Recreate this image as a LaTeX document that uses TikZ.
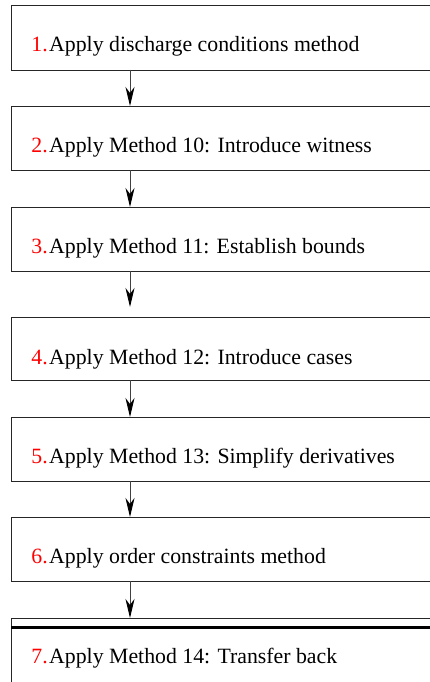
\documentclass[tikz,border=0pt]{standalone}
\usepackage{fontspec}
\setmainfont{Liberation Serif}
\usetikzlibrary{arrows.meta}

\tikzset{
  stepbox/.style={draw=black!85, line width=0.9pt, anchor=north west,
    minimum width=440pt, inner sep=0pt, outer sep=0pt},
  numlabel/.style={anchor=base east, inner sep=0pt, text=red,
    font=\fontsize{21.8}{26}\selectfont},
  steplabel/.style={anchor=base west, inner sep=0pt,
    font=\fontsize{21.8}{26}\selectfont},
  flow/.style={draw=black!75, line width=0.9pt,
    -{Stealth[length=19pt, width=9pt, inset=6pt, black]}}
}

\begin{document}
\begin{tikzpicture}[x=1pt, y=-1pt]
  \useasboundingbox (0,0) rectangle (430,682);
  \clip (0,0) rectangle (430,682);

  % step boxes: name / top / height (they run past the right margin)
  \node[stepbox, minimum height=65pt] (b1) at (11,5)   {};
  \node[stepbox, minimum height=64pt] (b2) at (11,106) {};
  \node[stepbox, minimum height=64pt] (b3) at (11,207) {};
  \node[stepbox, minimum height=63pt] (b4) at (11,317) {};
  \node[stepbox, minimum height=64pt] (b5) at (11,417) {};
  \node[stepbox, minimum height=64pt] (b6) at (11,517) {};
  \node[stepbox, minimum height=65pt] (b7) at (11,618) {};

  % heavy rule under the top edge of the last box
  \coordinate (r1) at (11,627.3);
  \coordinate (r2) at (451,627.3);
  \draw[line width=3pt] (r1) -- (r2);

  % step texts
  \node[numlabel] (n1) at (48,51.6)  {1.};
  \node[steplabel] (t1) at (49,51.6)  {Apply discharge conditions method};
  \node[numlabel] (n2) at (48,152.6) {2.};
  \node[steplabel] (t2) at (49,152.6) {Apply Method 10: Introduce witness};
  \node[numlabel] (n3) at (48,253.6) {3.};
  \node[steplabel] (t3) at (49,253.6) {Apply Method 11: Establish bounds};
  \node[numlabel] (n4) at (48,364)   {4.};
  \node[steplabel] (t4) at (49,364)   {Apply Method 12: Introduce cases};
  \node[numlabel] (n5) at (48,463.6) {5.};
  \node[steplabel] (t5) at (49,463.6) {Apply Method 13: Simplify derivatives};
  \node[numlabel] (n6) at (48,563.6) {6.};
  \node[steplabel] (t6) at (49,563.6) {Apply order constraints method};
  \node[numlabel] (n7) at (48,663.3) {7.};
  \node[steplabel] (t7) at (49,663.3) {Apply Method 14: Transfer back};

  % connectors
  \draw[flow] (b1.south west -| 130,0) -- (b2.north west -| 130,0);
  \draw[flow] (b2.south west -| 130,0) -- (b3.north west -| 130,0);
  \draw[flow, shorten >=10pt] (b3.south west -| 130,0) -- (b4.north west -| 130,0);
  \draw[flow] (b4.south west -| 130,0) -- (b5.north west -| 130,0);
  \draw[flow] (b5.south west -| 130,0) -- (b6.north west -| 130,0);
  \draw[flow] (b6.south west -| 130,0) -- (b7.north west -| 130,0);
\end{tikzpicture}
\end{document}
